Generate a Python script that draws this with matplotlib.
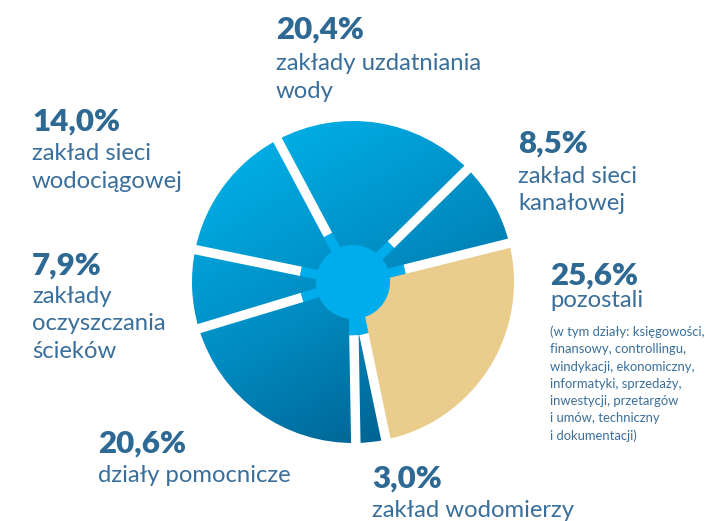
import matplotlib.pyplot as plt
import numpy as np
from matplotlib.colors import LinearSegmentedColormap
from matplotlib.patches import Circle

# shares of employees by department, clockwise from the top
values = [20.4, 8.5, 25.6, 3.0, 20.6, 7.9, 14.0]
pct_labels = ["20,4%", "8,5%", "25,6%", "3,0%", "20,6%", "7,9%", "14,0%"]
names = [
    ["zakłady uzdatniania", "wody"],
    ["zakład sieci", "kanałowej"],
    ["pozostali"],
    ["zakład wodomierzy"],
    ["działy pomocnicze"],
    ["zakłady", "oczyszczania", "ścieków"],
    ["zakład sieci", "wodociągowej"],
]
notes = [
    "(w tym działy: księgowości,",
    "finansowy, controllingu,",
    "windykacji, ekonomiczny,",
    "informatyki, sprzedaży,",
    "inwestycji, przetargów",
    "i umów, techniczny",
    "i dokumentacji)",
]
highlight = 2  # "pozostali" drawn in sand colour

W, H = 709, 521
fig = plt.figure(figsize=(W / 100, H / 100), dpi=100)

# pie placement in pixels
cx, cy, R = 353, 282, 161
lim = 1.1
ax = fig.add_axes([(cx - R * lim) / W, (H - cy - R * lim) / H,
                   2 * R * lim / W, 2 * R * lim / H])

wedges, _ = ax.pie(values, startangle=118, counterclock=False, radius=1,
                   colors=["#0088be"] * len(values))

blues = LinearSegmentedColormap.from_list(
    "blues", ["#00b8f0", "#008cc2", "#00527f"])
g = np.linspace(-1, 1, 400)
X, Y = np.meshgrid(g, g)
T = X * 0.5 - Y * 0.866
T = (T - T.min()) / (T.max() - T.min())

for i, w in enumerate(wedges):
    if i == highlight:
        w.set_facecolor("#eacd8d")
        continue
    w.set_facecolor("none")
    w.set_edgecolor("none")
    im = ax.imshow(T, cmap=blues, extent=(-1, 1, -1, 1), origin="lower",
                   zorder=1, interpolation="bilinear")
    im.set_clip_path(w)

hub_cyan = "#00adec"
r_ring = 0.33
for w in wedges:
    th = np.deg2rad(w.theta1)
    c, s = np.cos(th), np.sin(th)
    ax.plot([r_ring * c, 1.08 * c], [r_ring * s, 1.08 * s], color="white",
            lw=6.8, solid_capstyle="butt", zorder=3)
    ax.plot([0, r_ring * c], [0, r_ring * s], color=hub_cyan,
            lw=6.8, solid_capstyle="butt", zorder=3)
ax.add_patch(Circle((0, 0), 0.23, color=hub_cyan, zorder=4, lw=0))

ax.set_xlim(-lim, lim)
ax.set_ylim(-lim, lim)
ax.set_aspect("equal")
ax.axis("off")

pct_color = "#2d6993"
name_color = "#3a6f9b"
font = "Lato"

# label anchors: x, baseline of percentage, baseline of first name line
anchors = [
    (276, 39, 70),
    (518, 153, 183),
    (550, 285, 307),
    (372, 488, 517),
    (98, 453, 482),
    (32, 275, 303),
    (32, 131, 160),
]
line_gap = 27.5

for (x, yp, yn), pct, lines in zip(anchors, pct_labels, names):
    fig.text(x / W, 1 - yp / H, pct, family=font, weight="heavy",
             fontsize=22.5, color=pct_color, va="baseline", ha="left")
    for k, line in enumerate(lines):
        fig.text(x / W, 1 - (yn + k * line_gap) / H, line, family=font,
                 fontsize=17.2, color=name_color, va="baseline", ha="left")

for k, line in enumerate(notes):
    fig.text(550 / W, 1 - (336 + k * 17.3) / H, line, family=font,
             fontsize=9.4, color=name_color, va="baseline", ha="left")

fig.savefig("out.png", dpi=100)
